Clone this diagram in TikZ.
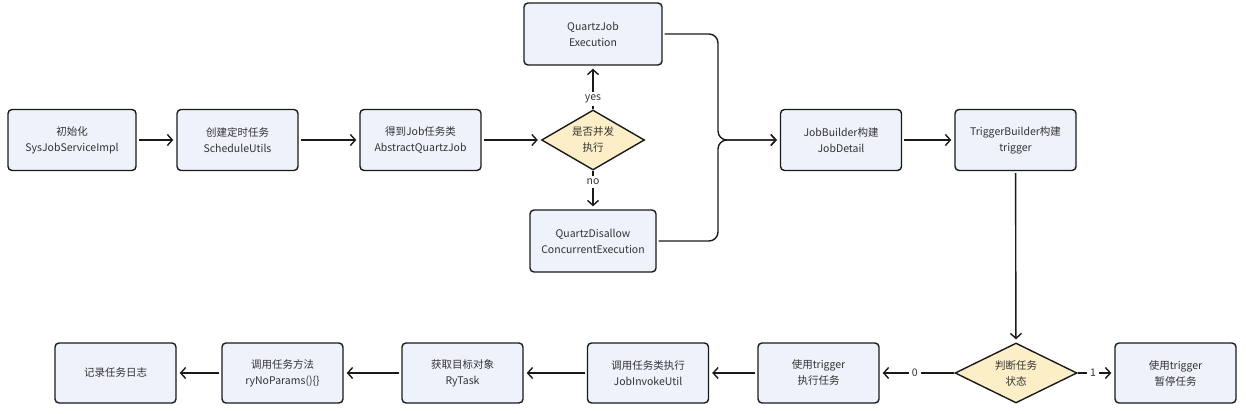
\documentclass[tikz,border=0pt]{standalone}
\usepackage{fontspec}
\setmainfont{Noto Sans CJK SC}
\usetikzlibrary{arrows.meta,positioning,shapes.geometric}
\definecolor{boxbg}{HTML}{EEF2FB}
\definecolor{decbg}{HTML}{FCEFC8}
\definecolor{edgecol}{HTML}{1A1A1A}
\definecolor{txtcol}{HTML}{333333}

\begin{document}
\begin{tikzpicture}[x=1pt, y=-1pt,
  box/.style={draw=edgecol, line width=1.4pt, rounded corners=4pt, fill=boxbg, align=center,
              font=\fontsize{10.5}{16}\selectfont, text=txtcol,
              minimum width=121pt, minimum height=61pt, inner sep=0pt},
  decision/.style={diamond, draw=edgecol, line width=1.4pt, fill=decbg, inner sep=0pt},
  dectext/.style={align=center, font=\fontsize{10.5}{16}\selectfont, text=txtcol},
  arr/.style={-{Straight Barb[length=5pt,width=11pt]}, line width=1.4pt, draw=edgecol,
              shorten >=3pt, shorten <=2pt},
  lbl/.style={fill=white, font=\fontsize{10.5}{13}\selectfont, text=txtcol, inner sep=3pt}]
  \useasboundingbox (0,0) rectangle (1246,414);
  % top row
  \node[box, minimum width=128pt] (init) at (72,140) {初始化\\SysJobServiceImpl};
  \node[box] (sched) at (237.5,140) {创建定时任务\\ScheduleUtils};
  \node[box] (abst) at (420.5,140) {得到Job任务类\\AbstractQuartzJob};
  \node[decision, minimum width=103pt, minimum height=60pt] (conc) at (593,140) {};
  \node[dectext] at (conc) {是否并发\\执行};
  \node[box, minimum width=138pt, minimum height=62pt] (qjob) at (593,34) {QuartzJob\\Execution};
  \node[box, minimum width=126pt, minimum height=62pt] (qdis) at (593,241) {QuartzDisallow\\ConcurrentExecution};
  \coordinate (join) at (718,140);
  \node[box] (jobb) at (841,140) {JobBuilder构建\\JobDetail};
  \node[box] (trigb) at (1015.5,140) {TriggerBuilder构建\\trigger};
  % bottom row
  \node[decision, minimum width=122pt, minimum height=60pt] (state) at (1016,373) {};
  \node[dectext] at (state) {判断任务\\状态};
  \node[box, minimum height=60pt] (pause) at (1175.5,373) {使用trigger\\暂停任务};
  \node[box, minimum height=60pt] (run) at (818.5,373) {使用trigger\\执行任务};
  \node[box, minimum height=60pt] (invoke) at (648,373) {调用任务类执行\\JobInvokeUtil};
  \node[box, minimum height=60pt] (target) at (462.5,373) {获取目标对象\\RyTask};
  \node[box, minimum height=60pt] (method) at (282.5,373) {调用任务方法\\ryNoParams()\{\}};
  \node[box, minimum height=60pt] (log) at (115.5,373) {记录任务日志};

  \draw[arr] (init) -- (sched);
  \draw[arr] (sched) -- (abst);
  \draw[arr] (abst) -- (conc);
  \draw[arr, shorten <=0pt] (conc) -- node[lbl, pos=0.24] {yes} (qjob);
  \draw[arr, shorten <=0pt] (conc) -- node[lbl, pos=0.28] {no} (qdis);
  \draw[arr, rounded corners=9pt] (qjob.east) -| (join) -- (jobb.west);
  \draw[arr, rounded corners=9pt] (qdis.east) -| (join) -- (jobb.west);
  \draw[arr] (jobb) -- (trigb);
  \draw[arr] (trigb) -- (state);
  \draw[arr, shorten <=0pt] (state) -- node[lbl, pos=0.42] {1} (pause);
  \draw[arr, shorten <=0pt] (state) -- node[lbl, pos=0.53] {0} (run);
  \draw[arr] (run) -- (invoke);
  \draw[arr] (invoke) -- (target);
  \draw[arr] (target) -- (method);
  \draw[arr] (method) -- (log);
\end{tikzpicture}
\end{document}
